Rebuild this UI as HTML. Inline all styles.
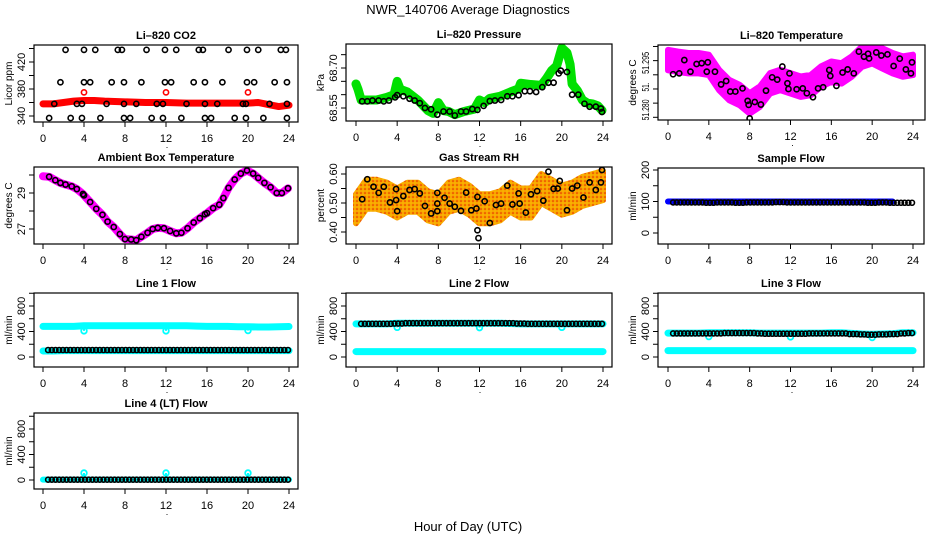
<!DOCTYPE html>
<html><head><meta charset="utf-8"><style>
html,body{margin:0;padding:0;background:#fff;}
svg{display:block;font-family:"Liberation Sans",Arial,sans-serif;}
</style></head><body>
<svg id="chart" width="936" height="540" viewBox="0 0 936 540">
<defs>
<pattern id="rhpat" width="4" height="4" patternUnits="userSpaceOnUse">
<rect width="4" height="4" fill="#f8a400"/>
<circle cx="1" cy="1" r="0.8" fill="#e82000"/>
<circle cx="3" cy="3" r="0.6" fill="#ffd000"/>
</pattern>
</defs>
<rect width="936" height="540" fill="#fff"/>
<text x="468" y="14" font-size="13" text-anchor="middle">NWR_140706  Average Diagnostics</text>
<text x="468" y="531" font-size="13" text-anchor="middle">Hour of Day (UTC)</text>
</svg>
<script>
// ---------- data ----------
const xTicks = [0,4,8,12,16,20,24];
// CO2
const co2RedHours = [0,1,2,3,4,5,6,8,10,12,14,16,18,20,21,22,23,24];
const co2RedVals  = [358,358,360,362,363,363,362,361,360,360,359,359,359,359,360,357,354,356];
const co2RedPtHours = [4,12,20];
const co2RedPtVals = [375,375,375];
const co2BlackHours = [2.2,4,5.1,7.3,7.7,10.1,11.9,13,15.2,15.6,18.1,19.9,21,23.2,23.7,
 1.7,4,4.6,6.7,7.9,9.6,11.9,12.5,14.7,15.8,17.5,19.9,20.6,22.6,23.8,
 1.1,3.3,3.8,6.2,7.9,9.1,11.1,11.7,14,15.8,17,19.5,19.8,22.1,23.8,
 0.6,2.7,3.8,5.6,7.9,8.5,10.6,11.7,13.5,15.8,16.4,18.7,19.8,21.5,23.8];
const co2BlackVals = [438,438,438,438,438,438,438,438,438,438,438,438,438,438,438,
 390,390,390,390,390,390,390,390,390,390,390,390,390,390,390,
 358,358,358,358,358,358,358,358,358,358,358,358,358,358,358,
 337,337,337,337,337,337,337,337,337,337,337,337,337,337,337];
// Pressure
const presHours = [0,0.2,0.5,1,2,3,3.7,4,4.3,5,6,7,7.5,8,8.5,9,9.6,10.5,11.5,12,12.5,13,14,15,15.8,16,17,18,18.5,19,19.5,20,20.5,20.8,21,21.5,22,22.5,23,23.5,23.9];
const presVals  = [68.64,68.62,68.58,68.58,68.58,68.59,68.60,68.65,68.62,68.61,68.58,68.54,68.53,68.57,68.54,68.537,68.525,68.537,68.546,68.58,68.57,68.586,68.594,68.61,68.622,68.643,68.638,68.635,68.66,68.69,68.708,68.775,68.757,68.714,68.64,68.616,68.58,68.568,68.565,68.558,68.541];
const presBlackHours = [0.6,1.1,1.6,2.2,2.7,3.2,3.8,4.0,4.6,5.2,5.7,6.2,6.7,7.3,7.9,8.5,9.1,9.6,10.2,10.7,11.3,11.8,12.4,13,13.5,14.1,14.7,15.2,15.8,16.4,16.9,17.5,18.1,18.7,19.2,19.7,19.9,20.5,21.0,21.6,22.2,22.7,23.3,23.8,23.9];
const presBlackVals  = [68.575,68.575,68.578,68.578,68.575,68.578,68.590,68.598,68.594,68.585,68.578,68.568,68.55,68.545,68.525,68.537,68.537,68.522,68.537,68.537,68.546,68.543,68.558,68.576,68.578,68.58,68.594,68.594,68.598,68.613,68.613,68.61,68.628,68.645,68.645,68.68,68.69,68.685,68.6,68.6,68.566,68.555,68.555,68.548,68.535];
// Li-820 temperature
const tempHours = [0,1,2,3,4,5,6,7,8,9,10,11,12,13,14,15,16,17,18,19,20,21,22,23,24];
const tempVals  = [51.3002,51.2996,51.2991,51.2991,51.2985,51.2932,51.2896,51.2879,51.2849,51.2873,51.2920,51.2932,51.2920,51.2908,51.2914,51.2944,51.2961,51.2955,51.2979,51.3014,51.3026,51.3008,51.2991,51.2979,51.2985];
const tempSpread = 0.0036;
const tempBlackHours = [0.5,1.1,1.6,2.2,2.8,3.3,3.8,3.9,4.6,5.2,5.7,6.1,6.6,7.3,7.8,7.9,8,8.5,9.1,9.6,10.2,10.7,11.2,11.7,11.8,11.9,12.6,13.2,13.6,14.2,14.7,15.2,15.8,15.9,16.5,17.1,17.6,18.2,18.7,19.2,19.6,19.7,20.4,20.9,21.5,22.1,22.7,23.3,23.8,23.9];
const tempBlackVals  = [51.2952,51.2955,51.3002,51.2961,51.2988,51.2991,51.2961,51.2994,51.2961,51.2916,51.2928,51.2891,51.2891,51.2902,51.2858,51.2844,51.2796,51.2854,51.2845,51.2894,51.2941,51.2933,51.2979,51.2920,51.2900,51.2955,51.2899,51.2902,51.2885,51.2871,51.2902,51.2906,51.2967,51.2946,51.2911,51.2958,51.2969,51.2955,51.3032,51.3014,51.3024,51.3008,51.3029,51.3018,51.3022,51.2981,51.3007,51.2969,51.2955,51.2994];
// Ambient box temperature
const ambHours = [0,0.6,1.2,1.7,2.2,2.8,3.3,3.9,4.0,4.6,5.2,5.8,6.3,6.9,7.5,8,8.6,9.1,9.6,10.2,10.7,11.2,11.8,12.4,13,13.5,14.1,14.7,15.3,15.8,16,16.6,17.2,17.6,18.1,18.7,19.3,19.9,20.5,21,21.6,22.2,22.8,23.3,23.9];
const ambVals  = [29.93,29.90,29.71,29.56,29.47,29.37,29.22,28.94,28.87,28.50,28.12,27.79,27.41,27.11,26.72,26.44,26.42,26.38,26.57,26.79,27.0,27.06,27.04,26.89,26.76,26.79,27.04,27.36,27.60,27.82,27.88,28.16,28.35,28.72,29.28,29.75,30.08,30.25,30.08,29.84,29.56,29.32,29.0,29.0,29.26];
// Gas stream RH
const rhHours = [0,1,2,3,4,5,6,7,8,9,10,11,12,13,14,15,16,17,18,19,20,21,22,23,24];
const rhVals  = [0.48,0.53,0.53,0.52,0.50,0.52,0.52,0.49,0.48,0.52,0.53,0.51,0.48,0.48,0.49,0.52,0.50,0.50,0.55,0.53,0.51,0.52,0.54,0.55,0.56];
const rhSpread = 0.05;
const rhBlackHours = [0.6,1.1,1.7,2.2,2.7,3.3,3.9,3.9,4.0,4.6,5.2,5.7,6.2,6.7,7.3,7.9,7.9,7.9,8.6,9.1,9.6,10.2,10.7,11.2,11.7,11.8,11.8,11.9,12.5,13,13.6,14.1,14.7,15.2,15.8,15.9,16.5,17,17.6,18.2,18.7,19.2,19.6,19.8,20.5,21.0,21.5,22.1,22.7,23.3,23.8,23.9];
const rhBlackVals  = [0.513,0.582,0.556,0.535,0.556,0.502,0.548,0.510,0.472,0.524,0.545,0.548,0.533,0.490,0.464,0.472,0.535,0.498,0.518,0.498,0.487,0.473,0.536,0.475,0.481,0.521,0.406,0.379,0.506,0.431,0.493,0.498,0.560,0.495,0.533,0.498,0.467,0.530,0.541,0.508,0.608,0.549,0.550,0.576,0.475,0.550,0.560,0.519,0.571,0.545,0.571,0.614];
// Flows (hourly values)
const flowHours = [0,1,2,3,4,5,6,7,8,9,10,11,12,13,14,15,16,17,18,19,20,21,22,23,24];
const sampleBlue  = [100,100,100,100,100,100,100,100,100,100,100,100,100,100,100,100,100,100,100,100,100,100,100];
const sampleBlack = [97,97,97,97,96,97,97,96,97,97,97,98,97,97,97,97,97,97,97,97,96,97,96,96,96];
const l1CyanHi = [480,480,480,480,490,490,490,490,490,490,490,490,490,490,490,485,480,480,480,475,475,470,470,475,478];
const l1CyanLo = [95,95,100,100,100,100,100,100,100,100,100,100,100,100,100,100,100,100,100,100,100,100,100,100,100];
const l1Black  = [110,110,110,110,110,110,110,110,110,110,110,110,110,110,110,110,110,110,110,110,110,110,110,110,110];
const l2CyanHi = [520,520,520,520,530,530,530,530,530,530,530,530,530,530,530,525,520,520,520,520,520,520,520,520,520];
const l2CyanLo = [85,85,85,85,85,85,85,85,85,85,85,85,85,85,85,85,85,85,85,85,85,85,85,85,85];
const l2Black  = [520,520,520,520,525,530,530,530,530,530,530,530,530,530,530,530,525,520,520,520,520,520,520,520,520];
const l3CyanHi = [375,375,375,375,380,380,380,380,380,375,375,375,375,375,375,375,380,380,370,360,355,360,365,380,380];
const l3CyanLo = [100,100,100,100,100,100,100,100,100,100,100,100,100,100,100,100,100,100,100,100,100,100,100,100,100];
const l3Black  = [370,370,370,370,370,370,375,375,375,370,365,365,365,365,370,370,370,370,360,355,350,355,360,370,375];
const l4Cyan   = [5,5,5,5,5,5,5,5,5,5,5,5,5,5,5,5,5,5,5,5,5,5,5,5,5];
const l4Black  = [5,5,5,5,5,5,5,5,5,5,5,5,5,5,5,5,5,5,5,5,5,5,5,5,5];
const dipHours = [4,12,20];
const l1DipVals = [410,410,415];
const l2DipVals = [465,460,465];
const l3DipVals = [320,315,305];
const l4SpikeVals = [110,110,110];

// ---------- helpers ----------
const svg = document.getElementById('chart');
const NS = 'http://www.w3.org/2000/svg';
function mk(tag, attrs, parent){
  const e = document.createElementNS(NS, tag);
  for (const k in attrs) e.setAttribute(k, attrs[k]);
  (parent||svg).appendChild(e);
  return e;
}
function makePanel(p){
  const g = mk('g', {});
  
  
  p.g = g;
  p.sx = h => p.x0 + h*(p.x24-p.x0)/24;
  p.sy = v => p.yp0 + (v-p.yv0)*(p.yp1-p.yp0)/(p.yv1-p.yv0);
  const [l,r,t,b] = p.box;
  const cp = mk('clipPath', {id: 'clip-'+p.name}, g);
  mk('rect', {x:l, y:t, width:r-l, height:b-t}, cp);
  p.plot = mk('g', {'clip-path':'url(#clip-'+p.name+')'}, g);
  return p;
}
function finishPanel(p){
  const [l,r,t,b] = p.box;
  const g = p.g;
  const frame = mk('rect', {x:l, y:t, width:r-l, height:b-t, fill:'none', stroke:'#000', 'stroke-width':1.2}, g);
  
  
  const title = mk('text', {x:(l+r)/2, y:t-6, 'font-size':11, 'font-weight':'bold', 'text-anchor':'middle'}, g);
  title.textContent = p.title;
  
  
  xTicks.forEach(h => {
    const x = p.sx(h);
    mk('line', {x1:x, x2:x, y1:b, y2:b+5, stroke:'#000', 'stroke-width':1}, g);
    const tx = mk('text', {x:x, y:b+20, 'font-size':11, 'text-anchor':'middle'}, g);
    tx.textContent = h;
    
    
  });
  mk('line', {x1:p.sx(0), x2:p.sx(24), y1:b, y2:b, stroke:'#000', 'stroke-width':1}, g);
  const dot = mk('text', {x:(l+r)/2+1, y:b+26, 'font-size':9, 'text-anchor':'middle'}, g);
  dot.textContent = '.';
  p.yTicks.forEach(v => {
    const y = p.sy(v);
    mk('line', {x1:l-5, x2:l, y1:y, y2:y, stroke:'#000', 'stroke-width':1}, g);
  });
  mk('line', {x1:l, x2:l, y1:p.sy(p.yTicks[0]), y2:p.sy(p.yTicks[p.yTicks.length-1]), stroke:'#000', 'stroke-width':1}, g);
  p.yLabels.forEach((lab, i) => {
    const y = p.sy(p.yLabelVals[i]);
    const attrs = {x:0, y:0, 'font-size':p.yFont||11, 'text-anchor':'middle', transform:'translate('+(l-9)+','+y+') rotate(-90)'};
    if (p.yLen) { attrs.textLength = p.yLen[i]; attrs.lengthAdjust = 'spacingAndGlyphs'; }
    const tx = mk('text', attrs, g);
    tx.textContent = lab;
    
    
  });
  const yt = mk('text', {x:0, y:0, 'font-size':10, 'text-anchor':'middle', transform:'translate('+(l-22)+','+((t+b)/2)+') rotate(-90)'}, g);
  yt.textContent = p.ylab;
  
  
}
function line(p, hours, vals, color, w, name){
  const pts = hours.slice(0, vals.length).map((h,i) => p.sx(h)+','+p.sy(vals[i])).join(' ');
  const e = mk('polyline', {points:pts, fill:'none', stroke:color, 'stroke-width':w, 'stroke-linecap':'round', 'stroke-linejoin':'round'}, p.plot);
  
  
  return e;
}
function band(p, hours, vals, spread, color, name){
  const up = hours.map((h,i) => p.sx(h)+','+p.sy(vals[i]+spread));
  const lo = hours.map((h,i) => p.sx(h)+','+p.sy(vals[i]-spread)).reverse();
  const e = mk('polygon', {points:up.concat(lo).join(' '), fill:color, stroke:color, 'stroke-width':6, 'stroke-linejoin':'round'}, p.plot);
  
  
}
function points(p, hours, vals, color, name, r){
  hours.forEach((h,i) => {
    const c = mk('circle', {cx:p.sx(h), cy:p.sy(vals[i]), r:r||2.6, fill:'none', stroke:color, 'stroke-width':1.6}, p.plot);
    
    
  });
}
function stepPoints(p, vals, color, name, from){
  for (let t = from; t <= 24.01; t += 0.36) {
    const v = vals[Math.min(vals.length-1, Math.round(t))];
    const c = mk('circle', {cx:p.sx(t), cy:p.sy(v), r:2.5, fill:'none', stroke:color, 'stroke-width':1.6}, p.plot);
    
    
  }
}
function dips(p, base, dipV, color, name){
  dipHours.forEach((h,i) => {
    const e = mk('line', {x1:p.sx(h), x2:p.sx(h), y1:p.sy(base[h]), y2:p.sy(dipV[i]), stroke:color, 'stroke-width':2}, p.plot);
    
    
    const c = mk('circle', {cx:p.sx(h), cy:p.sy(dipV[i]), r:2.8, fill:'none', stroke:color, 'stroke-width':1.8}, p.plot);
    
    
  });
}
const flowTicks = [0,200,400,600,800,1000];
const flowLabels = ['0','400','800'];
const flowLabelVals = [0,400,800];

// ---------- CO2 ----------
let p = makePanel({name:'co2-panel', title:'Li\u2013820 CO2', ylab:'Licor ppm', box:[34,298,45,122], x0:43, x24:289, yv0:340, yp0:116, yv1:420, yp1:62,
  yTicks:[340,360,380,400,420,440], yLabels:['340','380','420'], yLabelVals:[340,380,420]});
line(p, co2RedHours, co2RedVals, '#ff0000', 7, 'co2-red-series');
points(p, co2RedPtHours, co2RedPtVals, '#ff0000', 'co2-red-point');
points(p, co2BlackHours, co2BlackVals, '#000', 'co2-black-point');
finishPanel(p);

// ---------- Pressure ----------
p = makePanel({name:'pressure-panel', title:'Li\u2013820 Pressure', ylab:'kPa', box:[346,612,44,121], x0:356, x24:603, yv0:68.55, yp0:108, yv1:68.70, yp1:68,
  yTicks:[68.55,68.60,68.65,68.70,68.75], yLabels:['68.55','68.70'], yLabelVals:[68.55,68.70]});
line(p, presHours, presVals, '#00e000', 9, 'pressure-green-series');
points(p, presBlackHours, presBlackVals, '#000', 'pressure-black-point');
finishPanel(p);

// ---------- Li-820 temperature ----------
p = makePanel({name:'li820-temperature-panel', title:'Li\u2013820 Temperature', ylab:'degrees C', box:[658,925,45,120], x0:668, x24:913, yv0:51.280, yp0:117.3, yv1:51.295, yp1:74.8,
  yTicks:[51.280,51.285,51.290,51.295,51.300,51.305], yLabels:['51.280','51.','51.295'], yLabelVals:[51.2826,51.2907,51.2992],
  yFont:10, yLen:[21,9,22]});
band(p, tempHours, tempVals, tempSpread, '#ff00ff', 'li820-temp-magenta-band');
points(p, tempBlackHours, tempBlackVals, '#000', 'li820-temp-black-point');
finishPanel(p);

// ---------- Ambient ----------
p = makePanel({name:'ambient-temperature-panel', title:'Ambient Box Temperature', ylab:'degrees C', box:[34,298,167,244], x0:43, x24:289, yv0:27, yp0:229, yv1:29, yp1:193,
  yTicks:[27,28,29,30], yLabels:['27','29'], yLabelVals:[27,29]});
line(p, ambHours, ambVals, '#ff00ff', 8, 'ambient-magenta-series');
points(p, ambHours.slice(1), ambVals.slice(1), '#000', 'ambient-black-point');
finishPanel(p);

// ---------- RH ----------
p = makePanel({name:'rh-panel', title:'Gas Stream RH', ylab:'percent', box:[346,612,167,244], x0:356, x24:603, yv0:0.40, yp0:232, yv1:0.60, yp1:174,
  yTicks:[0.40,0.45,0.50,0.55,0.60], yLabels:['0.40','0.50','0.60'], yLabelVals:[0.40,0.50,0.60]});
band(p, rhHours, rhVals, rhSpread, 'url(#rhpat)', 'rh-orange-band');
points(p, rhBlackHours, rhBlackVals, '#000', 'rh-black-point');
finishPanel(p);

// ---------- Sample flow ----------
p = makePanel({name:'sample-flow-panel', title:'Sample Flow', ylab:'ml/min', box:[658,924,168,244], x0:668, x24:913, yv0:0, yp0:233, yv1:200, yp1:170,
  yTicks:[0,50,100,150,200], yLabels:['0','100','200'], yLabelVals:[0,100,200]});
line(p, flowHours, sampleBlue, '#0000ff', 6, 'sample-flow-blue-series');
stepPoints(p, sampleBlack, '#000', 'sample-flow-black-point', 0.5);
finishPanel(p);

// ---------- Line 1 ----------
p = makePanel({name:'line1-flow-panel', title:'Line 1 Flow', ylab:'ml/min', box:[34,298,293,367], x0:43, x24:289, yv0:0, yp0:357, yv1:800, yp1:306,
  yTicks:flowTicks, yLabels:flowLabels, yLabelVals:flowLabelVals});
line(p, flowHours, l1CyanHi, '#00ffff', 7, 'line1-cyan-high-series');
line(p, flowHours, l1CyanLo, '#00ffff', 7, 'line1-cyan-low-series');
dips(p, l1CyanHi, l1DipVals, '#00ffff', 'line1-dip');
stepPoints(p, l1Black, '#000', 'line1-black-point', 0.5);
finishPanel(p);

// ---------- Line 2 ----------
p = makePanel({name:'line2-flow-panel', title:'Line 2 Flow', ylab:'ml/min', box:[346,612,293,367], x0:356, x24:603, yv0:0, yp0:357, yv1:800, yp1:306,
  yTicks:flowTicks, yLabels:flowLabels, yLabelVals:flowLabelVals});
line(p, flowHours, l2CyanHi, '#00ffff', 7, 'line2-cyan-high-series');
line(p, flowHours, l2CyanLo, '#00ffff', 7, 'line2-cyan-low-series');
dips(p, l2CyanHi, l2DipVals, '#00ffff', 'line2-dip');
stepPoints(p, l2Black, '#000', 'line2-black-point', 0.5);
finishPanel(p);

// ---------- Line 3 ----------
p = makePanel({name:'line3-flow-panel', title:'Line 3 Flow', ylab:'ml/min', box:[658,924,293,367], x0:668, x24:913, yv0:0, yp0:357, yv1:800, yp1:306,
  yTicks:flowTicks, yLabels:flowLabels, yLabelVals:flowLabelVals});
line(p, flowHours, l3CyanHi, '#00ffff', 7, 'line3-cyan-high-series');
line(p, flowHours, l3CyanLo, '#00ffff', 7, 'line3-cyan-low-series');
dips(p, l3CyanHi, l3DipVals, '#00ffff', 'line3-dip');
stepPoints(p, l3Black, '#000', 'line3-black-point', 0.5);
finishPanel(p);

// ---------- Line 4 ----------
p = makePanel({name:'line4-flow-panel', title:'Line 4 (LT) Flow', ylab:'ml/min', box:[34,298,413,489], x0:43, x24:289, yv0:0, yp0:480, yv1:800, yp1:429,
  yTicks:flowTicks, yLabels:flowLabels, yLabelVals:flowLabelVals});
line(p, flowHours, l4Cyan, '#00ffff', 6, 'line4-cyan-series');
dips(p, l4Cyan, l4SpikeVals, '#00ffff', 'line4-spike');
stepPoints(p, l4Black, '#000', 'line4-black-point', 0.5);
finishPanel(p);
</script>
</body></html>
